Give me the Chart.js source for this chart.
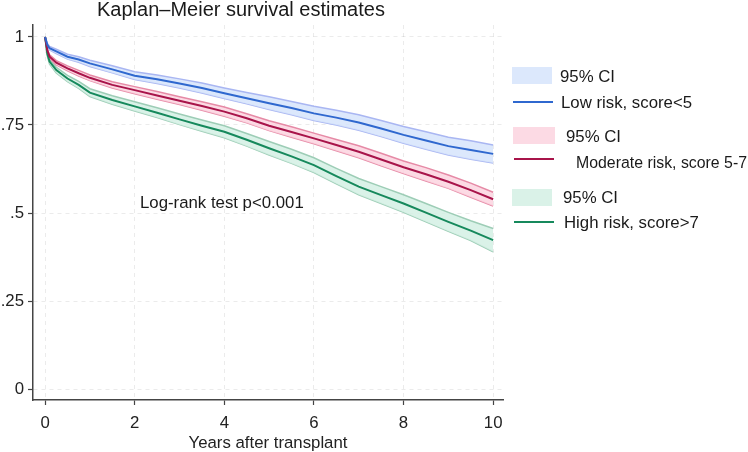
<!DOCTYPE html>
<html>
<head>
<meta charset="utf-8">
<script src="https://cdn.jsdelivr.net/npm/chart.js@4"></script>
<style>
  html, body { margin: 0; padding: 0; background: #fff; }
  #wrap { width: 748px; height: 452px; }
</style>
</head>
<body>
<div id="wrap"><canvas id="kmChart" width="748" height="452"></canvas></div>
<script>
// years after transplant
const years = [0, 0.05, 0.1, 0.25, 0.5, 0.75, 1, 1.5, 2, 2.5, 3, 3.5, 4, 4.5, 5, 5.5, 6, 6.5, 7, 7.5, 8, 8.5, 9, 9.5, 10];

// Low risk, score<5
const lowRisk   = [1, 0.978, 0.968, 0.959, 0.944, 0.936, 0.925, 0.908, 0.890, 0.880, 0.868, 0.855, 0.840, 0.826, 0.812, 0.798, 0.783, 0.771, 0.757, 0.740, 0.722, 0.706, 0.690, 0.679, 0.668];
const lowRiskHi = [1, 0.982, 0.973, 0.965, 0.951, 0.944, 0.934, 0.918, 0.901, 0.892, 0.881, 0.869, 0.855, 0.842, 0.830, 0.817, 0.803, 0.792, 0.779, 0.763, 0.746, 0.731, 0.715, 0.705, 0.693];
const lowRiskLo = [1, 0.974, 0.963, 0.953, 0.937, 0.928, 0.916, 0.898, 0.879, 0.868, 0.855, 0.841, 0.825, 0.810, 0.794, 0.779, 0.763, 0.750, 0.735, 0.717, 0.698, 0.681, 0.665, 0.653, 0.642];

// Moderate risk, score 5-7
const modRisk   = [1, 0.962, 0.944, 0.927, 0.911, 0.897, 0.884, 0.864, 0.849, 0.834, 0.819, 0.804, 0.788, 0.769, 0.748, 0.730, 0.712, 0.693, 0.674, 0.652, 0.630, 0.610, 0.589, 0.565, 0.539];
const modRiskHi = [1, 0.966, 0.949, 0.933, 0.918, 0.905, 0.892, 0.873, 0.859, 0.845, 0.830, 0.816, 0.801, 0.782, 0.762, 0.745, 0.727, 0.709, 0.691, 0.670, 0.648, 0.629, 0.608, 0.585, 0.559];
const modRiskLo = [1, 0.958, 0.939, 0.921, 0.904, 0.889, 0.876, 0.855, 0.839, 0.823, 0.808, 0.792, 0.775, 0.756, 0.734, 0.715, 0.697, 0.677, 0.657, 0.634, 0.612, 0.591, 0.570, 0.545, 0.520];

// High risk, score>7
const highRisk   = [1, 0.952, 0.930, 0.906, 0.882, 0.864, 0.842, 0.821, 0.803, 0.785, 0.766, 0.748, 0.731, 0.708, 0.684, 0.661, 0.636, 0.605, 0.575, 0.551, 0.527, 0.501, 0.475, 0.450, 0.423];
const highRiskHi = [1, 0.958, 0.937, 0.914, 0.891, 0.874, 0.853, 0.833, 0.816, 0.799, 0.781, 0.764, 0.748, 0.726, 0.703, 0.681, 0.657, 0.627, 0.598, 0.575, 0.552, 0.527, 0.502, 0.478, 0.456];
const highRiskLo = [1, 0.946, 0.923, 0.898, 0.873, 0.854, 0.831, 0.809, 0.790, 0.771, 0.751, 0.732, 0.714, 0.690, 0.665, 0.641, 0.615, 0.583, 0.552, 0.527, 0.502, 0.475, 0.448, 0.422, 0.390];

const xTicks = [0, 2, 4, 6, 8, 10];
const yTicks = [0, 0.25, 0.5, 0.75, 1];
const yTickLabels = ["0", ".25", ".5", ".75", "1"];

const FONT = "'Liberation Sans', Arial, sans-serif";
const FS = 16.8;

const groups = [
  { label: "Low risk, score<5", mid: lowRisk, hi: lowRiskHi, lo: lowRiskLo,
    line: "#2f68cf", ciLine: "#a9b6f2", ciFill: "rgba(214,228,252,0.85)" },
  { label: "Moderate risk, score 5-7", mid: modRisk, hi: modRiskHi, lo: modRiskLo,
    line: "#a8144a", ciLine: "#e68aa6", ciFill: "rgba(251,212,223,0.85)" },
  { label: "High risk, score>7", mid: highRisk, hi: highRiskHi, lo: highRiskLo,
    line: "#16895c", ciLine: "#9dcdb6", ciFill: "rgba(211,240,228,0.85)" }
];

function pts(arr) {
  return years.map((t, i) => ({ x: t, y: arr[i] }));
}

// chart.js paints the first dataset last, so survival lines go first
const datasets = [];
groups.forEach(g => {
  datasets.push({ data: pts(g.mid), borderColor: g.line, borderWidth: 2,
    fill: false, pointRadius: 0, tension: 0 });
});
groups.forEach(g => {
  datasets.push({ data: pts(g.hi), borderColor: g.ciLine, backgroundColor: g.ciFill,
    borderWidth: 1.5, fill: "+1", pointRadius: 0, tension: 0 });
  datasets.push({ data: pts(g.lo), borderColor: g.ciLine, borderWidth: 1.5,
    fill: false, pointRadius: 0, tension: 0 });
});

// title, annotation and legend drawn on top
const extras = {
  id: "extras",
  afterDraw(chart) {
    const c = chart.ctx;
    c.save();
    c.fillStyle = "#1a1a1a";
    c.textBaseline = "alphabetic";
    c.textAlign = "left";
    c.font = "20px " + FONT;
    c.fillText("Kaplan\u2013Meier survival estimates", 97, 16);

    c.font = FS + "px " + FONT;
    c.textBaseline = "middle";
    c.fillText("Log-rank test p<0.001", 140, 203);

    const rows = [
      { sw: [512, 67], swW: 40, tx: 560, ty: 77, ly: 102, lx: 513, ltx: 561, lty: 103 },
      { sw: [513, 127], swW: 42, tx: 566, ty: 137, ly: 159, lx: 514, ltx: 576, lty: 163 },
      { sw: [512, 189], swW: 40, tx: 563, ty: 198, ly: 222, lx: 514, ltx: 564, lty: 223 }
    ];
    groups.forEach((g, i) => {
      const r = rows[i];
      c.fillStyle = g.ciFill;
      c.fillRect(r.sw[0], r.sw[1], r.swW, 17);
      c.fillStyle = "#1a1a1a";
      c.fillText("95% CI", r.tx, r.ty);
      c.strokeStyle = g.line;
      c.lineWidth = 2;
      c.beginPath();
      c.moveTo(r.lx, r.ly);
      c.lineTo(r.lx + 40, r.ly);
      c.stroke();
      c.fillText(g.label, r.ltx, r.lty, 748 - r.ltx - 1);
    });
    c.restore();
  }
};

new Chart(document.getElementById("kmChart"), {
  type: "line",
  data: { datasets: datasets },
  plugins: [extras],
  options: {
    responsive: false,
    animation: false,
    devicePixelRatio: 1,
    layout: { padding: { top: 25, right: 245, left: 0, bottom: 0 } },
    plugins: { legend: { display: false }, tooltip: { enabled: false } },
    scales: {
      x: {
        type: "linear",
        min: -0.27,
        max: 10.22,
        afterBuildTicks: s => { s.ticks = xTicks.map(v => ({ value: v })); },
        afterFit: s => { s.height = 52; },
        ticks: { color: "#222", font: { family: FONT, size: FS }, padding: 8, maxRotation: 0 },
        grid: { color: "rgba(0,0,0,0.08)", tickLength: 5,
                tickColor: "#444", tickWidth: 1.2, tickBorderDash: [] },
        border: { color: "#444", width: 1.5, dash: [4, 4] },
        title: { display: true, text: "Years after transplant", color: "#222",
                 font: { family: FONT, size: FS }, padding: { top: 0, bottom: -1 } }
      },
      y: {
        type: "linear",
        min: -0.031,
        max: 1.034,
        afterBuildTicks: s => { s.ticks = yTicks.map(v => ({ value: v })); },
        afterFit: s => { s.width = 33; },
        ticks: { color: "#222", font: { family: FONT, size: FS }, padding: 4,
                 callback: v => { const i = yTicks.indexOf(v); return i >= 0 ? yTickLabels[i] : ""; } },
        grid: { color: "rgba(0,0,0,0.08)", tickLength: 5,
                tickColor: "#444", tickWidth: 1.2, tickBorderDash: [] },
        border: { color: "#444", width: 1.5, dash: [4, 4] }
      }
    }
  }
});
</script>
</body>
</html>
